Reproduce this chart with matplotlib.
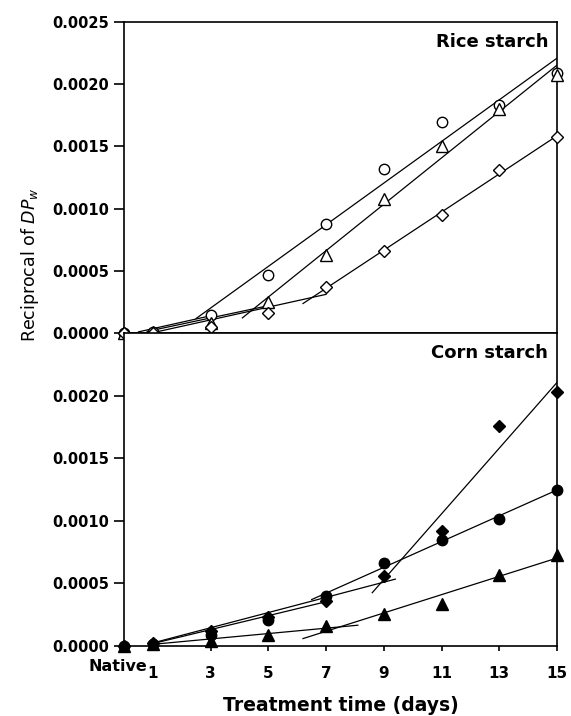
import matplotlib.pyplot as plt
import numpy as np

# treatment time (days), 0 = native starch
days = [0, 1, 3, 5, 7, 9, 11, 13, 15]
day_labels = ['', '1', '3', '5', '7', '9', '11', '13', '15']

# rice starch (open symbols)
rice_circle = [0.0, 0.00001, 0.000147, 0.000469, 0.000879, 0.00132, 0.00170, 0.00183, 0.00209]
rice_triangle = [0.0, 0.00001, 0.00008, 0.000247, 0.00063, 0.00108, 0.00150, 0.00180, 0.00207]
rice_diamond = [0.0, 0.0, 0.000048, 0.00016, 0.00037, 0.000656, 0.00095, 0.00131, 0.001575]

# corn starch (filled symbols)
corn_circle = [0.0, 0.00001, 0.000086, 0.000206, 0.000394, 0.000661, 0.000843, 0.001015, 0.001248]
corn_triangle = [0.0, 0.00001, 0.00004, 0.0000857, 0.000153, 0.000254, 0.000335, 0.000568, 0.000728]
corn_diamond = [0.0, 0.00002, 0.00012, 0.00023, 0.000353, 0.00056, 0.000916, 0.00176, 0.00203]

# linear phases: (fit from day, fit to day, draw from day, draw to day)
rice_circle_fits = [(0, 3, 0.5, 3), (3, 15, 2.5, 15)]
rice_triangle_fits = [(0, 5, 0.8, 5), (5, 15, 4.1, 15)]
rice_diamond_fits = [(0, 7, 1, 7), (7, 15, 6.2, 15)]
corn_circle_fits = [(0, 7, 1, 7), (7, 15, 6.5, 15)]
corn_triangle_fits = [(0, 7, 1, 8.1), (7, 15, 6.2, 15)]
corn_diamond_fits = [(0, 9, 1, 9.4), (9, 15, 8.6, 15)]


def draw_series(ax, y, fits, marker, ms, face):
    x = np.array(days, dtype=float)
    y = np.array(y)
    for f0, f1, d0, d1 in fits:
        sel = (x >= f0) & (x <= f1)
        k, b = np.polyfit(x[sel], y[sel], 1)
        xs = np.array([d0, d1])
        ax.plot(xs, k * xs + b, color='black', lw=0.9, zorder=2)
    ax.plot(x, y, linestyle='none', marker=marker, ms=ms, mfc=face,
            mec='black', mew=1.0, clip_on=False, zorder=3)


fig = plt.figure(figsize=(5.71, 7.16), dpi=100)
ax1 = fig.add_axes([0.2172, 0.5349, 0.7583, 0.4344])
ax2 = fig.add_axes([0.2172, 0.0983, 0.7583, 0.4366])

draw_series(ax1, rice_circle, rice_circle_fits, 'o', 7.5, 'white')
draw_series(ax1, rice_triangle, rice_triangle_fits, '^', 8, 'white')
draw_series(ax1, rice_diamond, rice_diamond_fits, 'D', 6.5, 'white')

draw_series(ax2, corn_circle, corn_circle_fits, 'o', 7.5, 'black')
draw_series(ax2, corn_triangle, corn_triangle_fits, '^', 8, 'black')
draw_series(ax2, corn_diamond, corn_diamond_fits, 'D', 6.5, 'black')

for ax in (ax1, ax2):
    ax.set_xlim(0, 15)
    ax.set_ylim(0, 0.0025)
    for s in ax.spines.values():
        s.set_linewidth(1.2)
    ax.tick_params(axis='y', direction='out', length=7.5, width=1.2, labelsize=10.5)
    ax.tick_params(axis='x', direction='out', length=3.5, width=1.2,
                   labelsize=11, pad=11)
    ax.set_xticks(days)

ax1.set_yticks([0, 0.0005, 0.0010, 0.0015, 0.0020, 0.0025])
ax1.set_yticklabels(['0.0000', '0.0005', '0.0010', '0.0015', '0.0020', '0.0025'],
                    fontweight='bold')
ax1.tick_params(axis='x', length=0, labelbottom=False)

ax2.set_yticks([0, 0.0005, 0.0010, 0.0015, 0.0020])
ax2.set_yticklabels(['0.0000', '0.0005', '0.0010', '0.0015', '0.0020'],
                    fontweight='bold')
ax2.set_xticklabels(day_labels, fontweight='bold')
ax2.annotate('Native', xy=(0, 0), xycoords=('data', 'axes fraction'),
             xytext=(-4.7, -9.8), textcoords='offset points',
             ha='center', va='top', fontsize=11.5, fontweight='bold',
             annotation_clip=False)

ax1.text(0.98, 0.935, 'Rice starch', transform=ax1.transAxes, ha='right',
         va='center', fontsize=13, fontweight='bold')
ax2.text(0.98, 0.935, 'Corn starch', transform=ax2.transAxes, ha='right',
         va='center', fontsize=13, fontweight='bold')

ax2.set_xlabel('Treatment time (days)', fontsize=13.5, fontweight='bold', labelpad=11)
fig.text(0.052, 0.63, r'Reciprocal of $\mathit{DP_w}$', rotation=90,
         ha='center', va='center', fontsize=12.5)

plt.savefig('out.png', dpi=100)
plt.close()
